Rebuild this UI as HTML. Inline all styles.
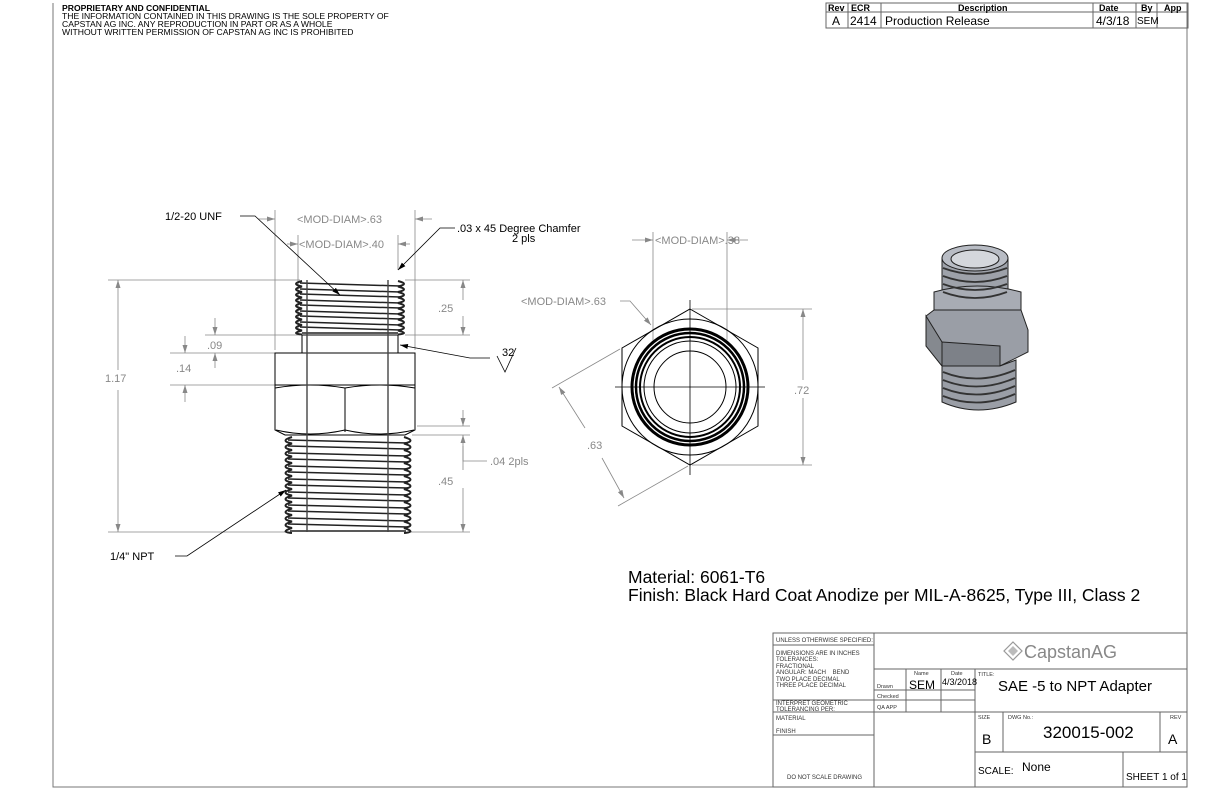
<!DOCTYPE html>
<html><head><meta charset="utf-8"><style>
html,body{margin:0;padding:0;background:#fff;}
svg{display:block;font-family:"Liberation Sans",sans-serif;}
</style></head><body>
<svg width="1224" height="792" viewBox="0 0 1224 792" xmlns="http://www.w3.org/2000/svg">
<defs>
<marker id="ag" markerWidth="8" markerHeight="6" refX="8" refY="3" orient="auto" markerUnits="userSpaceOnUse"><path d="M0,0.5 L8,3 L0,5.5z" fill="#888"/></marker>
<marker id="ab" markerWidth="8" markerHeight="6" refX="8" refY="3" orient="auto" markerUnits="userSpaceOnUse"><path d="M0,0.5 L8,3 L0,5.5z" fill="#000"/></marker>
</defs>
<path d="M53,3 V787 H1187 V3" fill="none" stroke="#777" stroke-width="1"/>
<g font-size="8.6" fill="#000">
<text x="62" y="11" font-weight="bold">PROPRIETARY AND CONFIDENTIAL</text>
<text x="62" y="19">THE INFORMATION CONTAINED IN THIS DRAWING IS THE SOLE PROPERTY OF</text>
<text x="62" y="27">CAPSTAN AG INC. ANY REPRODUCTION IN PART OR AS A WHOLE</text>
<text x="62" y="35">WITHOUT WRITTEN PERMISSION OF CAPSTAN AG INC IS PROHIBITED</text>
</g>
<g stroke="#666" fill="none" stroke-width="1">
<rect x="826" y="3" width="362" height="25"/>
<line x1="826" y1="12" x2="1188" y2="12"/>
<line x1="848" y1="3" x2="848" y2="28"/><line x1="881" y1="3" x2="881" y2="28"/>
<line x1="1093" y1="3" x2="1093" y2="28"/><line x1="1136" y1="3" x2="1136" y2="28"/>
<line x1="1157" y1="3" x2="1157" y2="28"/>
</g>
<g font-size="9" font-weight="bold" fill="#000">
<text x="828" y="11">Rev</text><text x="851" y="11">ECR</text><text x="958" y="11">Description</text>
<text x="1099" y="11">Date</text><text x="1141" y="11">By</text><text x="1164" y="11">App</text>
</g>
<g font-size="12" fill="#000">
<text x="832" y="25">A</text><text x="850" y="25">2414</text><text x="885" y="25">Production Release</text>
<text x="1096" y="25">4/3/18</text>
</g>
<text x="1137" y="24" font-size="10" fill="#000">SEM</text>

<!-- LEFT VIEW -->
<g stroke="#888" stroke-width="0.8" fill="none">
<line x1="108" y1="280" x2="300" y2="280"/><line x1="108" y1="532" x2="290" y2="532"/>
<line x1="405" y1="280" x2="470" y2="280"/><line x1="405" y1="335" x2="470" y2="335"/>
<line x1="412" y1="435" x2="470" y2="435"/><line x1="410" y1="532" x2="470" y2="532"/>
<line x1="417" y1="426" x2="470" y2="426"/>
<line x1="205" y1="335" x2="300" y2="335"/><line x1="170" y1="353" x2="275" y2="353"/>
<line x1="170" y1="385" x2="275" y2="385"/>
<line x1="275" y1="210" x2="275" y2="350"/><line x1="415" y1="210" x2="415" y2="350"/>
<line x1="298" y1="235" x2="298" y2="335"/><line x1="398" y1="235" x2="398" y2="270"/>
</g>
<g stroke="#888" stroke-width="0.8" fill="none">
<line x1="118" y1="370" x2="118" y2="280" marker-end="url(#ag)"/><line x1="118" y1="390" x2="118" y2="532" marker-end="url(#ag)"/>
<line x1="463" y1="300" x2="463" y2="280" marker-end="url(#ag)"/><line x1="463" y1="316" x2="463" y2="335" marker-end="url(#ag)"/>
<line x1="463" y1="470" x2="463" y2="435" marker-end="url(#ag)"/><line x1="463" y1="488" x2="463" y2="532" marker-end="url(#ag)"/>
<line x1="463" y1="410" x2="463" y2="426" marker-end="url(#ag)"/>
<path d="M463,446 V461 H487"/>
<line x1="215" y1="318" x2="215" y2="335" marker-end="url(#ag)"/><line x1="215" y1="368" x2="215" y2="353" marker-end="url(#ag)"/>
<line x1="185" y1="336" x2="185" y2="353" marker-end="url(#ag)"/><line x1="185" y1="402" x2="185" y2="385" marker-end="url(#ag)"/>
<line x1="258" y1="219" x2="275" y2="219" marker-end="url(#ag)"/><line x1="432" y1="219" x2="415" y2="219" marker-end="url(#ag)"/>
<line x1="287" y1="244" x2="298" y2="244" marker-end="url(#ag)"/><line x1="410" y1="244" x2="398" y2="244" marker-end="url(#ag)"/>
</g>
<g font-size="11" fill="#888">
<text x="105" y="382">1.17</text><text x="438" y="312">.25</text><text x="438" y="485">.45</text>
<text x="490" y="465">.04 2pls</text><text x="207" y="349">.09</text><text x="176" y="372">.14</text>
<text x="297" y="223">&lt;MOD-DIAM&gt;.63</text><text x="299" y="248">&lt;MOD-DIAM&gt;.40</text>
</g>
<g stroke="#000" stroke-width="1" fill="none">
<rect x="302" y="335" width="96" height="18"/>
<path d="M275,353 H415 V430 L405,435 H285 L275,430 Z"/>
<line x1="275" y1="385" x2="415" y2="385"/>
<path d="M275,388 Q310,382 345,388 Q380,382 415,388"/>
<path d="M276,430 Q310,438 345,430 Q380,438 414,430"/>
<line x1="345" y1="388" x2="345" y2="432"/>
</g>
<g stroke="#222" stroke-width="2" fill="none">
<path d="M302,281 q-12,3 0,5.5 q-12,3 0,5.5 q-12,3 0,5.5 q-12,3 0,5.5 q-12,3 0,5.5 q-12,3 0,5.5 q-12,3 0,5.5 q-12,3 0,5.5 q-12,3 0,5.5 q-12,3 0,4"/>
<path d="M398,281 q12,3 0,5.5 q12,3 0,5.5 q12,3 0,5.5 q12,3 0,5.5 q12,3 0,5.5 q12,3 0,5.5 q12,3 0,5.5 q12,3 0,5.5 q12,3 0,5.5 q12,3 0,4"/>
<path d="M300,283 L400,286 M300,289 L400,292 M300,294 L400,297 M300,300 L400,303 M300,305 L400,308 M300,311 L400,314 M300,316 L400,319 M300,322 L400,325 M300,327 L400,330 M302,333 L398,333" stroke-width="1.5"/>
<path d="M292,437 q-13,4 0,6.5 q-13,4 0,6.5 q-13,4 0,6.5 q-13,4 0,6.5 q-13,4 0,6.5 q-13,4 0,6.5 q-13,4 0,6.5 q-13,4 0,6.5 q-13,4 0,6.5 q-13,4 0,6.5 q-13,4 0,6.5 q-13,4 0,6.5 q-13,4 0,6.5 q-13,4 0,6.5 q-13,4 0,5"/>
<path d="M404,437 q13,4 0,6.5 q13,4 0,6.5 q13,4 0,6.5 q13,4 0,6.5 q13,4 0,6.5 q13,4 0,6.5 q13,4 0,6.5 q13,4 0,6.5 q13,4 0,6.5 q13,4 0,6.5 q13,4 0,6.5 q13,4 0,6.5 q13,4 0,6.5 q13,4 0,6.5 q13,4 0,5"/>
<path d="M288,440 L408,443 M288,446 L408,449 M288,453 L408,456 M288,459 L408,462 M288,466 L408,469 M288,472 L408,475 M288,479 L408,482 M288,485 L408,488 M288,492 L408,495 M288,498 L408,501 M288,505 L408,508 M288,511 L408,514 M288,518 L408,521 M288,524 L408,527 M290,531 L406,531" stroke-width="1.5"/>
</g>
<g stroke="#444" stroke-width="1.4"><line x1="307" y1="280" x2="307" y2="532"/><line x1="388" y1="280" x2="388" y2="532"/></g>
<g stroke="#000" stroke-width="0.8" fill="none">
<path d="M240,216 H255 L340,295" marker-end="url(#ab)"/>
<path d="M455,228 H440 L398,270" marker-end="url(#ab)"/>
<path d="M490,358 H470 L400,345" marker-end="url(#ab)"/>
<path d="M497,356 L505,372 L516,348"/>
<path d="M175,556 H187 L286,490" marker-end="url(#ab)"/>
</g>
<g font-size="11" fill="#000">
<text x="165" y="220">1/2-20 UNF</text>
<text x="457" y="232">.03 x 45 Degree Chamfer</text><text x="512" y="242">2 pls</text>
<text x="502" y="356">32</text>
<text x="110" y="560">1/4" NPT</text>
</g>

<!-- MIDDLE VIEW -->
<g stroke="#888" stroke-width="0.8" fill="none">
<line x1="653" y1="232" x2="653" y2="340"/><line x1="727" y1="232" x2="727" y2="340"/>
<line x1="632" y1="240" x2="653" y2="240" marker-end="url(#ag)"/><line x1="748" y1="240" x2="727" y2="240" marker-end="url(#ag)"/>
<line x1="692" y1="309" x2="812" y2="309"/><line x1="692" y1="465" x2="812" y2="465"/>
<line x1="803" y1="380" x2="803" y2="309" marker-end="url(#ag)"/><line x1="803" y1="398" x2="803" y2="465" marker-end="url(#ag)"/>
<line x1="620" y1="349" x2="552" y2="388"/><line x1="688" y1="466" x2="618" y2="506"/>
<line x1="585" y1="428" x2="559" y2="387" marker-end="url(#ag)"/><line x1="602" y1="458" x2="624" y2="498" marker-end="url(#ag)"/>
<path d="M620,301 H630 L651,325" marker-end="url(#ag)"/>
</g>
<g font-size="11" fill="#888">
<text x="655" y="244">&lt;MOD-DIAM&gt;.38</text><text x="521" y="305">&lt;MOD-DIAM&gt;.63</text>
<text x="794" y="394">.72</text><text x="587" y="449">.63</text>
</g>
<g stroke="#000" stroke-width="1" fill="none">
<polygon points="690,309 758,348 758,426 690,465 622,426 622,348"/>
<circle cx="690" cy="387" r="68"/>
<circle cx="690" cy="387" r="58" stroke-width="3"/>
<circle cx="690" cy="387" r="54" stroke-width="2.5"/>
<circle cx="690" cy="387" r="50" stroke-width="2"/>
<circle cx="690" cy="387" r="46"/>
<circle cx="690" cy="387" r="36"/>
<line x1="615" y1="387" x2="765" y2="387" stroke-width="0.8"/>
<line x1="690" y1="300" x2="690" y2="475" stroke-width="0.8"/>
</g>

<!-- 3D view -->
<g stroke="#222" stroke-width="1">
<path d="M942,258 V300 Q975,314 1008,300 V258 Z" fill="#9ea2aa"/>
<ellipse cx="975" cy="258" rx="33" ry="13" fill="#b8bcc4"/>
<ellipse cx="975" cy="259" rx="24" ry="9" fill="#d4d7dc"/>
<path d="M934,292 V310 Q977,324 1021,310 V292 Q977,280 934,292 Z" fill="#a8acb4"/>
<path d="M926,316 L934,310 L1021,310 L1028,330 V352 L1000,366 L942,366 L926,346 Z" fill="#9a9ea6"/>
<path d="M942,342 L1000,346 V366 L942,366 Z" fill="#7d8188"/>
<path d="M926,316 L942,342 V366 L926,346 Z" fill="#85898f"/>
<path d="M942,366 V402 Q978,418 1016,402 V360 L1000,366 Z" fill="#9a9ea6"/>
</g>
<g stroke="#333" stroke-width="1.8" fill="none">
<path d="M943,268 Q975,280 1007,268 M943,276 Q975,288 1007,276 M943,284 Q975,296 1007,284 M943,292 Q975,304 1007,292"/>
<path d="M943,372 Q978,386 1015,370 M943,380 Q978,394 1015,378 M943,388 Q978,402 1015,386 M943,396 Q978,410 1015,394"/>
</g>

<g font-size="17.5" fill="#000">
<text x="628" y="583">Material: 6061-T6</text>
<text x="628" y="601">Finish: Black Hard  Coat Anodize per MIL-A-8625, Type III, Class 2</text>
</g>

<!-- TITLE BLOCK -->
<g stroke="#666" stroke-width="1" fill="none">
<rect x="773" y="633" width="414" height="154"/>
<line x1="874" y1="633" x2="874" y2="787"/>
<line x1="975" y1="669" x2="975" y2="787"/>
<line x1="773" y1="645" x2="874" y2="645"/>
<line x1="874" y1="669" x2="1187" y2="669"/>
<line x1="874" y1="690" x2="975" y2="690"/>
<line x1="874" y1="700" x2="975" y2="700"/>
<line x1="773" y1="700" x2="874" y2="700"/>
<line x1="773" y1="712" x2="1187" y2="712"/>
<line x1="906" y1="669" x2="906" y2="712"/>
<line x1="941" y1="669" x2="941" y2="712"/>
<line x1="773" y1="735" x2="874" y2="735"/>
<line x1="1003" y1="712" x2="1003" y2="752"/>
<line x1="1160" y1="712" x2="1160" y2="752"/>
<line x1="975" y1="752" x2="1187" y2="752"/>
<line x1="1123" y1="752" x2="1123" y2="787"/>
</g>
<g font-size="6" fill="#333">
<text x="776" y="642">UNLESS OTHERWISE SPECIFIED:</text>
<text x="776" y="655">DIMENSIONS ARE IN INCHES</text><text x="776" y="661">TOLERANCES:</text>
<text x="776" y="668">FRACTIONAL</text><text x="776" y="674">ANGULAR: MACH &#160;&#160;&#160;BEND</text>
<text x="776" y="681">TWO PLACE DECIMAL</text><text x="776" y="687">THREE PLACE DECIMAL</text>
<text x="776" y="705">INTERPRET GEOMETRIC</text><text x="776" y="711">TOLERANCING PER:</text>
<text x="776" y="720">MATERIAL</text><text x="776" y="733">FINISH</text>
<text x="787" y="779">DO NOT SCALE DRAWING</text>
</g>
<g font-size="5.5" fill="#333">
<text x="877" y="688">Drawn</text><text x="877" y="698">Checked</text><text x="877" y="709">QA APP</text>
<text x="914" y="675">Name</text><text x="951" y="675">Date</text>
<text x="978" y="676">TITLE:</text><text x="978" y="719">SIZE</text><text x="1008" y="719">DWG No.:</text><text x="1170" y="719">REV</text>
</g>
<text x="909" y="689" font-size="12" fill="#000">SEM</text>
<text x="942" y="685" font-size="9" fill="#000">4/3/2018</text>
<text x="998" y="691" font-size="15" fill="#000">SAE -5 to NPT Adapter</text>
<text x="1043" y="738" font-size="17" fill="#000">320015-002</text>
<text x="982" y="744" font-size="14" fill="#000">B</text>
<text x="1168" y="744" font-size="14" fill="#000">A</text>
<text x="978" y="774" font-size="10" fill="#000">SCALE:</text>
<text x="1022" y="771" font-size="12" fill="#000">None</text>
<text x="1126" y="780" font-size="10" fill="#000">SHEET 1 of 1</text>
<g transform="translate(1013,651)">
<polygon points="0,-9 9,0 0,9 -9,0" fill="none" stroke="#999" stroke-width="1.2"/>
<polygon points="0,-5 5,0 0,5 -5,0" fill="#bbb"/>
</g>
<text x="1024" y="658" font-size="18" fill="#888">CapstanAG</text>
</svg>
</body></html>
